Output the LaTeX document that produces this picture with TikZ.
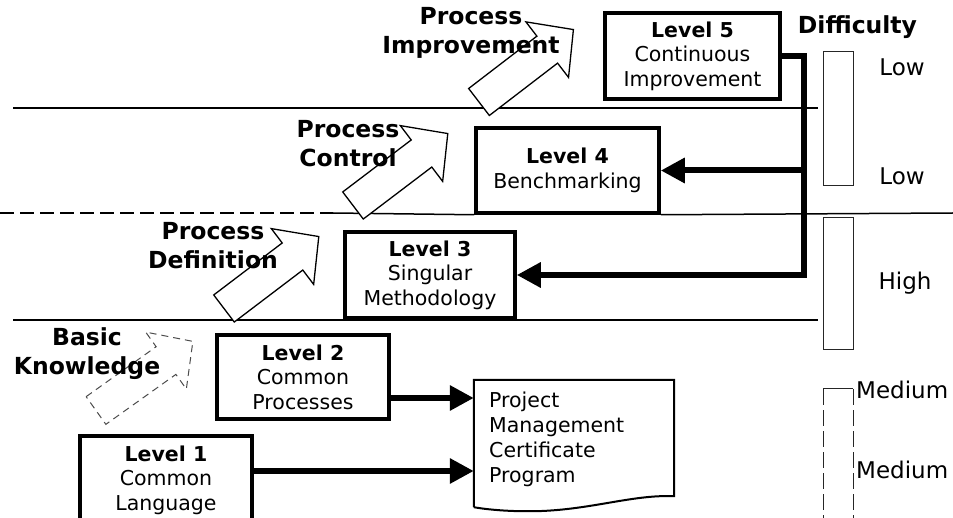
\documentclass[tikz,border=0pt]{standalone}
\usepackage{fontspec}
\setmainfont{DejaVu Sans}
\usetikzlibrary{arrows.meta,calc}
\begin{document}
\begin{tikzpicture}[x=1pt,y=-1pt,
  lvl/.style={draw, fill=white, line width=3.5pt, align=center, inner sep=0pt, font=\fontsize{20.5}{24.5}\selectfont},
  lbl/.style={align=center, font=\bfseries\fontsize{23.5}{29}\selectfont, inner sep=0pt},
  dlbl/.style={font=\fontsize{23}{27}\selectfont, inner sep=0pt},
  doctxt/.style={align=left, font=\fontsize{20.5}{24.8}\selectfont, inner sep=0pt},
  conn/.style={line width=6pt, -{Triangle[length=24pt,width=24pt]}},
  rule/.style={line width=1.5pt},
  barbox/.style={draw=black!85, line width=1pt, minimum width=30pt, inner sep=0pt},
  pics/blockarr/.style={code={\draw[line width=1.3pt, fill=white, line join=miter, #1]
      (0,-17) -- (86,-17) -- (86,-35) -- (119,0) -- (86,35) -- (86,17) -- (0,17) -- cycle;}},
]
\useasboundingbox (0,0) rectangle (953,518);
\clip (0,0) rectangle (953,518);

% level boxes (nodes used for rule anchors)
\node[lvl, minimum width=175pt, minimum height=86pt] (L5) at (692.5,56) {\textbf{Level 5}\\Continuous\\Improvement};
\node[lvl, minimum width=183pt, minimum height=85pt] (L4) at (567.5,170.5) {\textbf{Level 4}\\Benchmarking};

% horizontal rules
\draw[rule] (13,108) -- (818,108);
\draw[rule, dash pattern=on 14pt off 6pt] (0,213) -- (333,213);
\draw[rule] (333,213) -- (L4.south west);
\draw[rule] (L4.south east) -- (953,213);
\draw[rule] (13,320) -- (818,320);

% block arrows
\pic (aimp) [rotate=37.5] at (479,102) {blockarr=solid};
\pic (actl) [rotate=37.2] at (353,205.5) {blockarr=solid};
\pic (adef) [rotate=37.2] at (224,308.5) {blockarr=solid};
\pic (akno) [rotate=35.5] at (96,410.5) {blockarr={dash pattern=on 7pt off 5pt, draw=black!70, line width=1pt}};

% labels of the block arrows
\node[lbl] (limp) at (471,33) {Process\\Improvement};
\node[lbl] (lctl) at (348,143.5) {Process\\Control};
\node[lbl] (ldef) at (213,246) {Process\\Definition};
\node[lbl] (lkno) at (87,354) {Basic\\Knowledge};

% remaining level boxes
\node[lvl, minimum width=170pt, minimum height=86pt] (L3) at (430,275) {\textbf{Level 3}\\Singular\\Methodology};
\node[lvl, minimum width=172pt, minimum height=84pt] (L2) at (303,377) {\textbf{Level 2}\\Common\\Processes};
\node[lvl, minimum width=172pt, minimum height=88pt] (L1) at (166,480) {\textbf{Level 1}\\Common\\Language};

% document shape
\node[minimum width=200pt, minimum height=127pt, inner sep=0pt] (doc) at (574,443.5) {};
\draw[line width=2pt, line join=miter] (doc.south west) -- (doc.north west) -- (doc.north east)
  -- ([yshift=11pt]doc.south east)
  .. controls ([xshift=-44pt,yshift=13pt]doc.south east) and ([xshift=111pt,yshift=-5pt]doc.south west) .. ([xshift=51pt,yshift=-4pt]doc.south west)
  .. controls ([xshift=31pt,yshift=-4pt]doc.south west) and ([xshift=11pt,yshift=-2pt]doc.south west) .. (doc.south west);
\node[doctxt, anchor=west] (doctext) at (489,439.5) {Project\\Management\\Certificate\\Program};

% connectors
\draw[conn] (L5.east) -- ++(22.5,0) coordinate (jt) |- (L3.east);
\draw[conn] (jt |- L4.east) -- (L4.east);
\draw[conn] ([yshift=-21pt]L2.east) -- ([yshift=-21pt]L2.east -| doc.west);
\draw[conn] ([yshift=9pt]L1.east) -- ([yshift=9pt]L1.east -| doc.west);

% difficulty column
\node[lbl] (diff) at (857.5,27) {Difficulty};
\node[barbox, minimum height=134pt] (b1) at (838,119) {};
\node[barbox, minimum height=132pt] (b2) at (838,284) {};
\coordinate (b3tl) at (823,389);
\coordinate (b3tr) at (853,389);
\draw[draw=black!85, line width=1pt] (b3tl) -- (b3tr);
\draw[draw=black!85, line width=1pt, dash pattern=on 16pt off 5pt] (b3tl) -- ++(0,135) (b3tr) -- ++(0,135);
\node[dlbl] (low1) at (902,67) {Low};
\node[dlbl] (low2) at (902,176) {Low};
\node[dlbl] (high) at (905,283) {High};
\node[dlbl, anchor=west] (med1) at (856,390) {Medium};
\node[dlbl, anchor=west] (med2) at (856,470) {Medium};
\end{tikzpicture}
\end{document}
